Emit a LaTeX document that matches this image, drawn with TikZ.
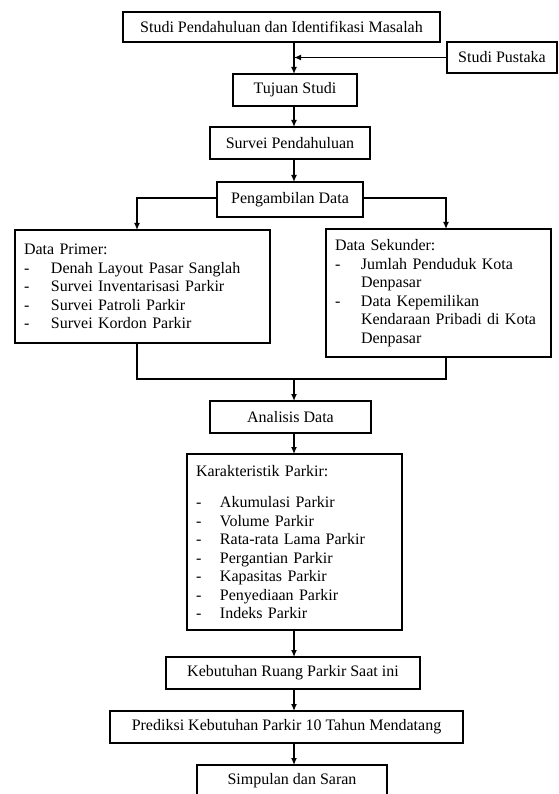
\documentclass[tikz,border=0pt]{standalone}
\usepackage{fontspec}
\setmainfont{Liberation Serif}
\usetikzlibrary{positioning, arrows.meta}

\newcommand{\dashitem}[1][27pt]{\makebox[#1][l]{-}}

\begin{document}
\begin{tikzpicture}[x=1pt, y=1pt, >={Latex[length=7pt,width=6pt]},
    box/.style={rectangle, draw=black, line width=1.4pt, minimum height=32pt, inner sep=0pt, outer sep=0pt, font=\fontsize{16}{18.5}\selectfont},
    listbox/.style={box, align=left, inner xsep=9pt},
    link/.style={line width=1.3pt}]
    \useasboundingbox (0,0) rectangle (558,-794);
    \clip (0,0) rectangle (558,-794);
    \coordinate (spine) at (294,0);
    \coordinate (merge) at (294,-379);

    \node[box, minimum width=317pt, minimum height=30pt] (studi) at (281.5,-27) {Studi Pendahuluan dan Identifikasi Masalah};
    \node[box, minimum width=110pt, minimum height=31pt, below right=0pt and 7pt of studi] (pustaka) {Studi Pustaka};
    \node[box, minimum width=124pt, below=32pt of studi, xshift=13.5pt] (tujuan) {Tujuan Studi};
    \node[box, minimum width=160pt, below=21pt of tujuan, xshift=-5pt] (survei) {Survei Pendahuluan};
    \node[box, minimum width=146pt, minimum height=35pt, below=23pt of survei] (ambil) {Pengambilan Data};

    \node[listbox, text width=237pt, minimum height=113pt, below=13pt of ambil, xshift=-147.5pt] (primer)
        {Data Primer:\\ \dashitem Denah Layout Pasar Sanglah\\ \dashitem Survei Inventarisasi Parkir\\
         \dashitem Survei Patroli Parkir\\ \dashitem Survei Kordon Parkir};
    \node[listbox, text width=207pt, minimum height=128pt, below=12pt of ambil, xshift=148.5pt] (sekunder)
        {Data Sekunder:\\ \dashitem[26pt]Jumlah Penduduk Kota\\ \hspace*{26pt}Denpasar\\
         \dashitem[26pt]Data Kepemilikan\\ \hspace*{26pt}Kendaraan Pribadi di Kota\\ \hspace*{26pt}Denpasar};

    \node[box, minimum width=161pt, below=22pt of merge, xshift=-3.5pt] (analisis) {Analisis Data};
    \node[listbox, text width=197pt, minimum height=176pt, below=21pt of analisis, xshift=4pt] (karakter)
        {Karakteristik Parkir:\\[13pt] \dashitem[24pt]Akumulasi Parkir\\ \dashitem[24pt]Volume Parkir\\
         \dashitem[24pt]Rata-rata Lama Parkir\\ \dashitem[24pt]Pergantian Parkir\\ \dashitem[24pt]Kapasitas Parkir\\
         \dashitem[24pt]Penyediaan Parkir\\ \dashitem[24pt]Indeks Parkir};
    \node[box, minimum width=254pt, below=27pt of karakter, xshift=-1.5pt] (butuh) {Kebutuhan Ruang Parkir Saat ini};
    \node[box, minimum width=353pt, below=22pt of butuh, xshift=-6.5pt] (prediksi) {Prediksi Kebutuhan Parkir 10 Tahun Mendatang};
    \node[box, minimum width=190pt, below=22pt of prediksi, xshift=5.5pt] (simpulan) {Simpulan dan Saran};

    \draw[link, ->] (studi.south -| spine) -- (tujuan.north -| spine);
    \draw[link, ->] (pustaka.west) -- (pustaka.west -| spine);
    \draw[link, ->] (tujuan.south -| spine) -- (survei.north -| spine);
    \draw[link, ->] (survei.south -| spine) -- (ambil.north -| spine);

    \draw[link, ->] ([yshift=1.5pt]ambil.west) -| ([xshift=-5.5pt]primer.north);
    \draw[link, ->] ([yshift=1.5pt]ambil.east) -| ([xshift=7.5pt]sekunder.north);
    \draw[link] ([xshift=-5.5pt]primer.south) |- (merge) -| ([xshift=7.5pt]sekunder.south);
    \draw[link, ->] (merge) -- (analisis.north -| merge);

    \draw[link, ->] (analisis.south -| spine) -- (karakter.north -| spine);
    \draw[link, ->] (karakter.south -| spine) -- (butuh.north -| spine);
    \draw[link, ->] (butuh.south -| spine) -- (prediksi.north -| spine);
    \draw[link, ->] (prediksi.south -| spine) -- (simpulan.north -| spine);
\end{tikzpicture}
\end{document}
